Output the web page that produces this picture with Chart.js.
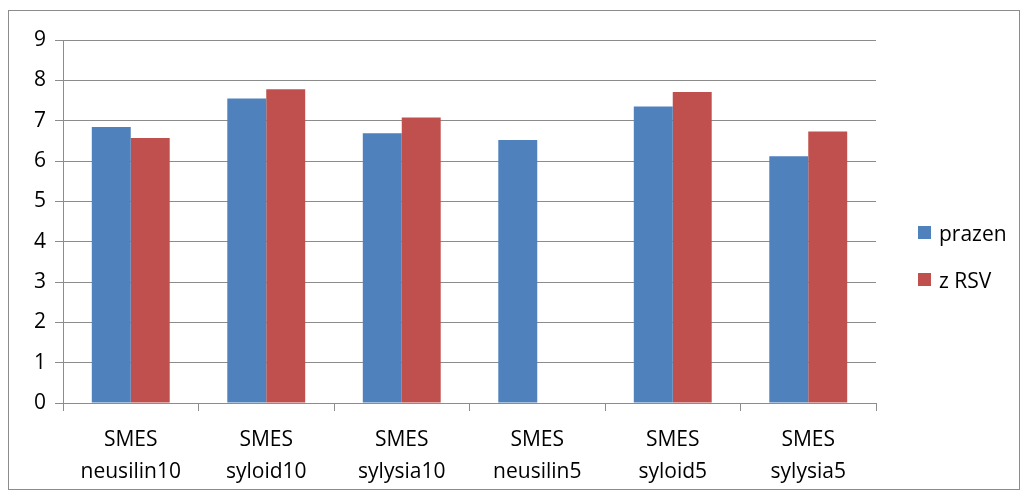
<!DOCTYPE html>
<html>
<head>
<meta charset="utf-8">
<script src="https://cdn.jsdelivr.net/npm/chart.js@4.4.0/dist/chart.umd.min.js"></script>
<style>
    body { margin: 0; background: #fff; }
    #frame {
        position: absolute; left: 8px; top: 10px;
        width: 1010px; height: 478px;
        border: 1px solid #8c8c8c;
    }
    #legend {
        position: absolute; left: 909px; top: 198px;
        font-family: "Open Sans", sans-serif; font-size: 21px; color: #000;
    }
    .item { display: flex; align-items: center; height: 47px; }
    .swatch { width: 13px; height: 13px; margin-right: 8px; }
</style>
</head>
<body>
<div id="frame">
    <canvas id="chart" width="1010" height="478"></canvas>
    <div id="legend"></div>
</div>
<script>
const categories = [
    ["SMES", "neusilin10"],
    ["SMES", "syloid10"],
    ["SMES", "sylysia10"],
    ["SMES", "neusilin5"],
    ["SMES", "syloid5"],
    ["SMES", "sylysia5"]
];
const seriesNames = ["prazen", "z RSV"];
const prazen = [6.84, 7.55, 6.69, 6.52, 7.35, 6.12];
const zRSV = [6.57, 7.78, 7.08, null, 7.71, 6.73];
const seriesColors = ["#4f81bd", "#c0504d"];

const fontFamily = "'Open Sans', sans-serif";
const gridColor = "#8c8c8c";

const chart = new Chart(document.getElementById("chart"), {
    type: "bar",
    data: {
        labels: categories,
        datasets: [
            { label: seriesNames[0], data: prazen, backgroundColor: seriesColors[0] },
            { label: seriesNames[1], data: zRSV, backgroundColor: seriesColors[1] }
        ]
    },
    options: {
        responsive: false,
        animation: false,
        categoryPercentage: 0.575,
        barPercentage: 1,
        layout: { padding: { top: 29, right: 143, left: 0, bottom: 0 } },
        plugins: {
            legend: { display: false },
            tooltip: { enabled: false }
        },
        scales: {
            x: {
                grid: {
                    offset: true,
                    drawOnChartArea: false,
                    color: gridColor,
                    tickLength: 8
                },
                border: { color: gridColor },
                ticks: {
                    color: "#000",
                    padding: 13,
                    maxRotation: 0,
                    font: { family: fontFamily, size: 21, lineHeight: 1.52 }
                },
                afterFit: (scale) => { scale.height = 86; }
            },
            y: {
                min: 0,
                max: 9,
                ticks: {
                    stepSize: 1,
                    color: "#000",
                    padding: 9,
                    font: { family: fontFamily, size: 21 }
                },
                grid: { color: gridColor, tickLength: 8 },
                border: { color: gridColor },
                afterFit: (scale) => { scale.width = 54; }
            }
        }
    }
});

// legend built from the chart's datasets
const legend = document.getElementById("legend");
chart.data.datasets.forEach((ds) => {
    const item = document.createElement("div");
    item.className = "item";
    item.innerHTML = `<span class="swatch" style="background:${ds.backgroundColor}"></span>${ds.label}`;
    legend.appendChild(item);
});
</script>
</body>
</html>
